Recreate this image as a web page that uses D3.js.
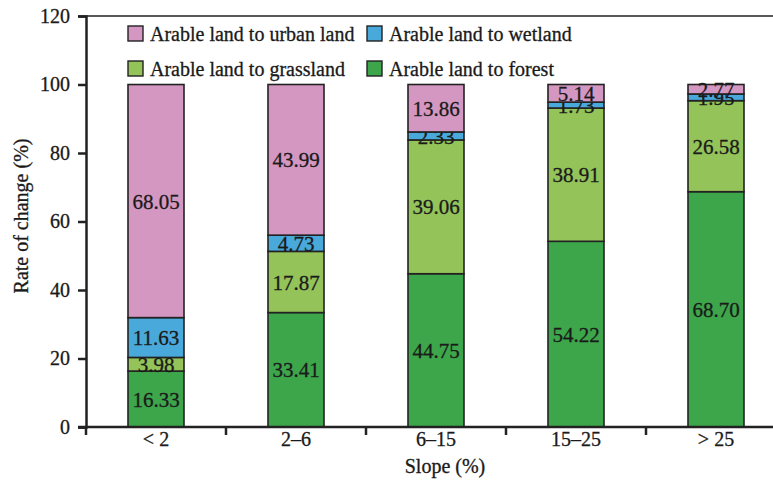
<!DOCTYPE html>
<html>
<head>
<meta charset="utf-8">
<script src="https://cdn.jsdelivr.net/npm/d3@7"></script>
<style>
  body { margin: 0; background: #fff; }
  text { font-family: "Liberation Serif", "Times New Roman", serif; fill: #1a1a1a;
         stroke: #1a1a1a; stroke-width: 0.3px; }
</style>
</head>
<body>
<div id="chart"></div>
<script>
// data
const slopes = ["< 2", "2\u20136", "6\u201315", "15\u201325", "> 25"];
const forest    = [16.33, 33.41, 44.75, 54.22, 68.70];
const grassland = [3.98, 17.87, 39.06, 38.91, 26.58];
const wetland   = [11.63, 4.73, 2.33, 1.73, 1.95];
const urban     = [68.05, 43.99, 13.86, 5.14, 2.77];
const seriesNames = ["Arable land to forest", "Arable land to grassland",
                     "Arable land to wetland", "Arable land to urban land"];
const yTicks = [0, 20, 40, 60, 80, 100, 120];

const colors = {
    "Arable land to forest": "#3da64b",
    "Arable land to grassland": "#93c359",
    "Arable land to wetland": "#49a9da",
    "Arable land to urban land": "#d497c1"
};

const W = 773, H = 500;
const margin = {left: 86, top: 16, bottom: 73};
const plotRight = 786; // last category runs off the picture

const svg = d3.select("#chart").append("svg")
    .attr("width", W).attr("height", H);

const x = d3.scaleBand().domain(slopes)
    .range([margin.left, plotRight]).paddingInner(0).paddingOuter(0);
const y = d3.scaleLinear().domain([0, 120]).range([H - margin.bottom, margin.top]);

// build table for the stack
const table = slopes.map((s, i) => ({
    slope: s,
    "Arable land to forest": forest[i],
    "Arable land to grassland": grassland[i],
    "Arable land to wetland": wetland[i],
    "Arable land to urban land": urban[i]
}));
const stacked = d3.stack().keys(seriesNames)(table);

const barW = x.bandwidth() * 0.4;

const layers = svg.append("g").selectAll("g")
    .data(stacked).join("g")
    .attr("fill", d => colors[d.key]);

layers.selectAll("rect")
    .data(d => d).join("rect")
    .attr("x", d => x(d.data.slope) + (x.bandwidth() - barW) / 2)
    .attr("y", d => y(d[1]))
    .attr("width", barW)
    .attr("height", d => y(d[0]) - y(d[1]))
    .attr("stroke", "#222")
    .attr("stroke-width", 1.6);

// value labels, centred on each segment
layers.selectAll("text")
    .data(d => d.map(v => ({v: v, key: d.key}))).join("text")
    .attr("x", d => x(d.v.data.slope) + x.bandwidth() / 2)
    .attr("y", d => y((d.v[0] + d.v[1]) / 2))
    .attr("dy", "0.36em")
    .attr("text-anchor", "middle")
    .style("font-size", "21px")
    .text(d => d.v.data[d.key].toFixed(2));

// top frame line
svg.append("line")
    .attr("x1", margin.left).attr("x2", W)
    .attr("y1", y(120)).attr("y2", y(120))
    .attr("stroke", "#222").attr("stroke-width", 1.5);

// y axis
const yAxis = svg.append("g")
    .attr("transform", `translate(${margin.left},0)`)
    .call(d3.axisLeft(y).tickValues(yTicks).tickSize(8).tickPadding(8));
yAxis.select(".domain").attr("stroke", "#222").attr("stroke-width", 2.5);
yAxis.selectAll(".tick line").attr("stroke", "#222").attr("stroke-width", 2.5);
yAxis.selectAll("text").style("font-size", "20px")
    .style("font-family", "Liberation Serif, serif")
    .attr("fill", "#1a1a1a").attr("stroke", "#1a1a1a").attr("stroke-width", 0.5);

// x axis: ticks at category boundaries
const xAxis = svg.append("g")
    .attr("transform", `translate(0,${y(0)})`);
xAxis.append("line")
    .attr("x1", margin.left - 8).attr("x2", W)
    .attr("stroke", "#222").attr("stroke-width", 2.5);
xAxis.selectAll(".bound")
    .data(slopes).join("line")
    .attr("x1", d => x(d)).attr("x2", d => x(d))
    .attr("y1", 0).attr("y2", 8)
    .attr("stroke", "#222").attr("stroke-width", 2.5);
xAxis.selectAll(".lab")
    .data(slopes).join("text")
    .attr("x", d => x(d) + x.bandwidth() / 2)
    .attr("y", 5)
    .attr("dy", "0.71em")
    .attr("text-anchor", "middle")
    .style("font-size", "20px")
    .text(d => d);

// axis titles
svg.append("text")
    .attr("transform", `translate(28,216) rotate(-90)`)
    .attr("text-anchor", "middle")
    .style("font-size", "20px")
    .text("Rate of change (%)");

svg.append("text")
    .attr("x", 445).attr("y", 473)
    .attr("text-anchor", "middle")
    .style("font-size", "20px")
    .text("Slope (%)");

// legend, two columns
const legendOrder = ["Arable land to urban land", "Arable land to wetland",
                     "Arable land to grassland", "Arable land to forest"];
const legend = svg.append("g").selectAll("g")
    .data(legendOrder).join("g")
    .attr("transform", (d, i) => `translate(${i % 2 ? 367 : 128},${i < 2 ? 26 : 61})`);
legend.append("rect")
    .attr("width", 15).attr("height", 15)
    .attr("fill", d => colors[d])
    .attr("stroke", "#222").attr("stroke-width", 1.4);
legend.append("text")
    .attr("x", 22).attr("y", 8)
    .attr("dy", "0.36em")
    .style("font-size", "20px")
    .text(d => d);
</script>
</body>
</html>
